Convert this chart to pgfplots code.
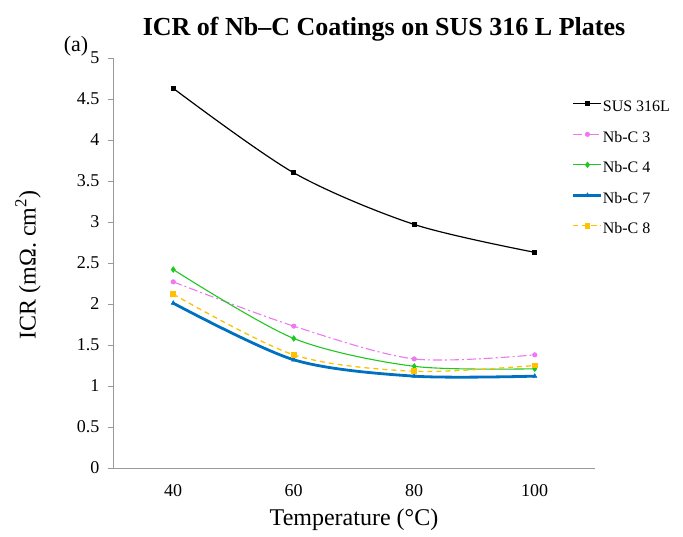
\documentclass[border=0pt]{standalone}
\usepackage{fontspec}
\setmainfont{Liberation Serif}
\usepackage{pgfplots}
\pgfplotsset{compat=1.18}
\definecolor{cSUS}{RGB}{0,0,0}
\definecolor{cN3}{RGB}{238,120,238}
\definecolor{cN4}{RGB}{30,200,30}
\definecolor{cN7}{RGB}{0,112,192}
\definecolor{cN8}{RGB}{255,192,0}
\begin{document}
\begin{tikzpicture}
\path[use as bounding box] (-113pt,-68pt) rectangle (570pt,468pt);
\begin{axis}[
  at={(0pt,0pt)}, anchor=south west,
  scale only axis, width=482pt, height=410pt,
  xmin=30, xmax=110, ymin=0, ymax=5,
  xtick={40,60,80,100},
  ytick={0,0.5,...,5},
  axis x line*=bottom, axis y line*=left,
  axis line style={color=black!40, line width=0.8pt, -},
  x tick style={draw=none},
  y tick style={color=black!40, line width=0.8pt},
  tick align=outside,
  major tick length=5pt,
  /pgf/number format/assume math mode=true,
  ticklabel style={font=\fontsize{18}{20}\selectfont},
  yticklabel style={xshift=-5pt},
  xticklabel style={yshift=-8pt},
  legend cell align=left,
  legend style={at={(0.952,0.896)}, anchor=north west, draw=none, fill=none,
    font=\fontsize{16}{18}\selectfont, inner sep=0pt, row sep=15.5pt,
    nodes={inner sep=0pt, text height=11pt, text depth=4pt},
    /tikz/every even column/.append style={column sep=3pt}},
  legend image code/.code={\draw[mark repeat=2, mark phase=2] plot coordinates {(0pt,4.5pt) (14pt,4.5pt) (28pt,4.5pt)};},
  clip=false,
]
\addplot[cSUS, line width=1.2pt, smooth, mark=square*, mark size=1.9pt, mark options={solid}]
  coordinates {(40,4.63) (60,3.60) (80,2.97) (100,2.63)};
\addlegendentry{SUS 316L}
\addplot[cN3, line width=1.1pt, smooth, dash pattern=on 9pt off 3pt on 2pt off 3pt, mark=*, mark size=2pt, mark options={solid}]
  coordinates {(40,2.27) (60,1.73) (80,1.33) (100,1.38)};
\addlegendentry{Nb-C 3}
\addplot[cN4, line width=1.1pt, smooth, mark=diamond*, mark size=2.4pt, mark options={solid}]
  coordinates {(40,2.42) (60,1.58) (80,1.24) (100,1.21)};
\addlegendentry{Nb-C 4}
\addplot[cN7, line width=2.8pt, smooth, mark=triangle*, mark size=2.5pt, mark options={solid, line width=0.5pt}]
  coordinates {(40,2.01) (60,1.32) (80,1.12) (100,1.12)};
\addlegendentry{Nb-C 7}
\addplot[cN8, line width=1.3pt, smooth, dash pattern=on 5pt off 4pt, mark=square*, mark size=2.3pt, mark options={solid}]
  coordinates {(40,2.12) (60,1.38) (80,1.18) (100,1.25)};
\addlegendentry{Nb-C 8}
\end{axis}
\node[font=\fontsize{26}{28}\selectfont\bfseries] at (271pt,439pt) {ICR of Nb–C Coatings on SUS 316 L Plates};
\node[font=\fontsize{22}{24}\selectfont] at (-37pt,422pt) {(a)};
\node[font=\fontsize{24}{26}\selectfont, rotate=90] at (-85pt,203pt) {ICR (mΩ. cm\textsuperscript{2})};
\node[font=\fontsize{24}{26}\selectfont] at (241pt,-52pt) {Temperature (°C)};
\end{tikzpicture}
\end{document}
